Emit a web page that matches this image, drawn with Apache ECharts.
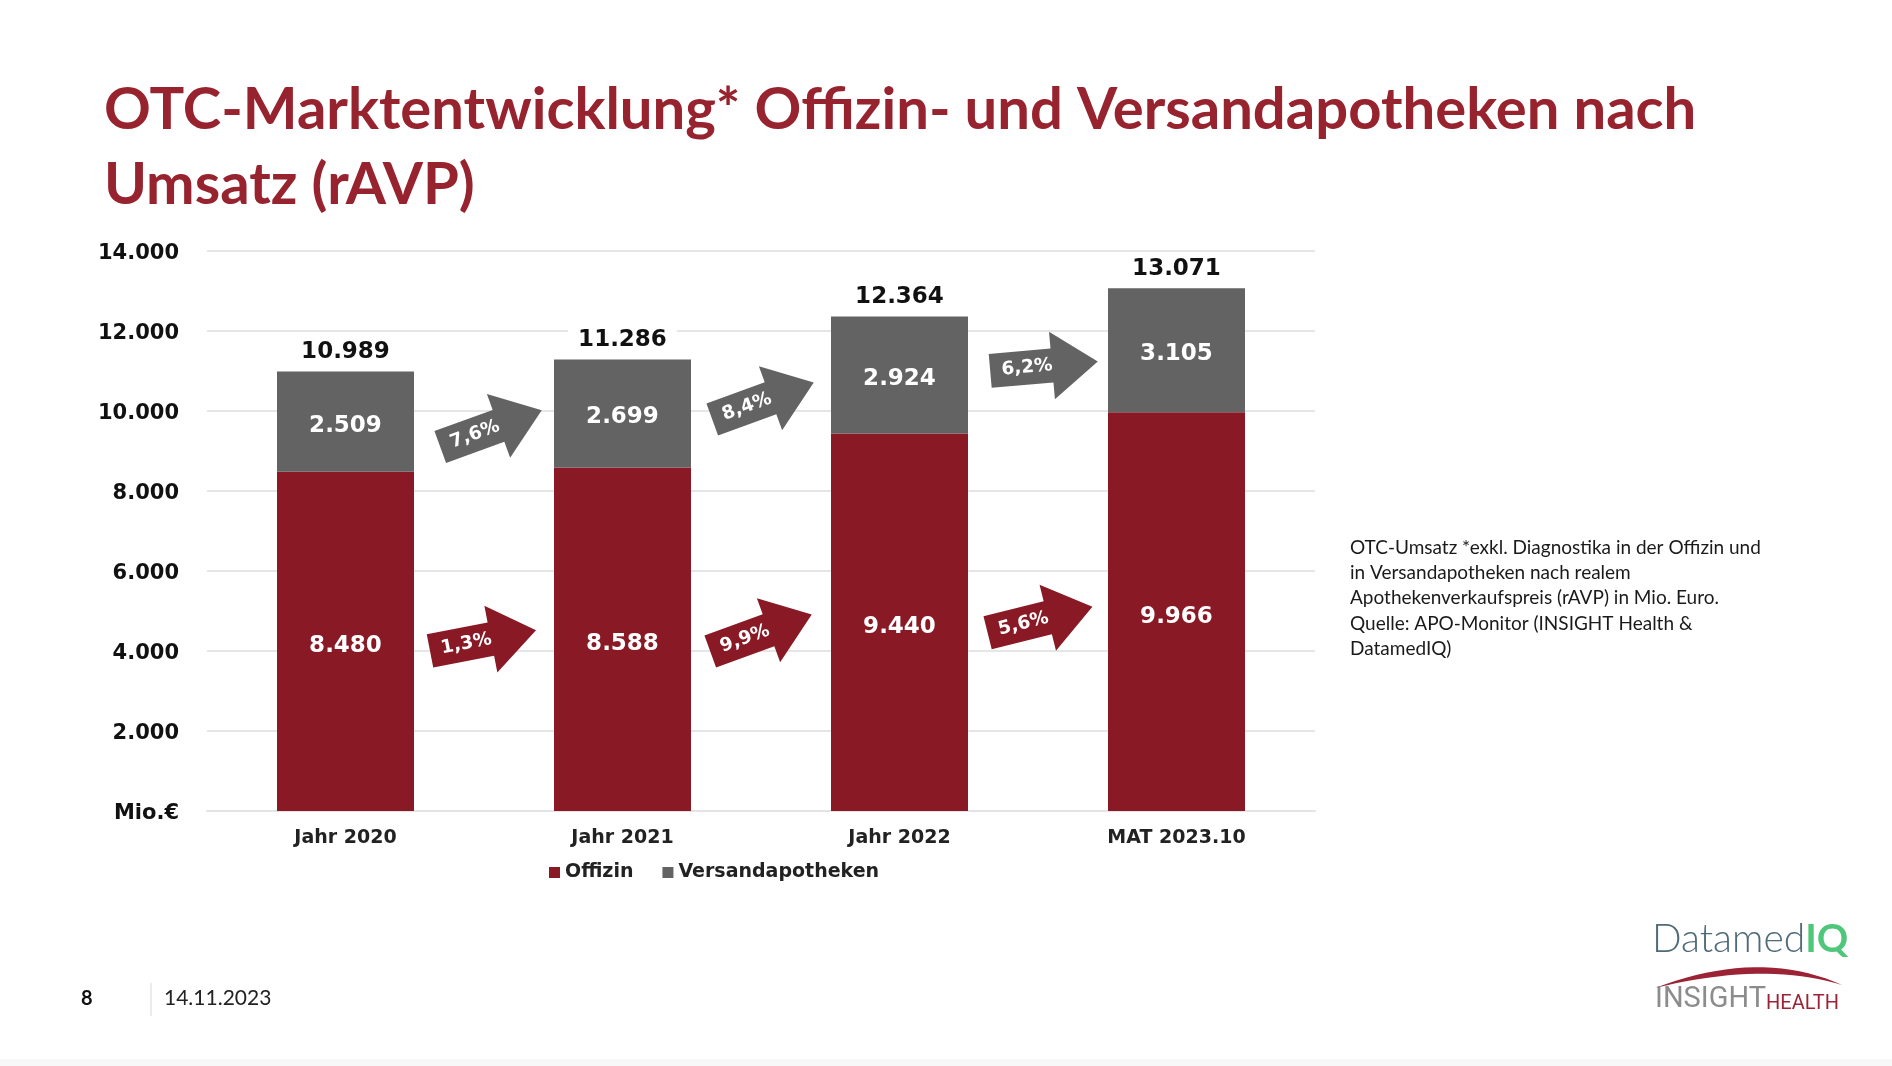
<!DOCTYPE html>
<html>
<head>
<meta charset="utf-8">
<script src="https://cdn.jsdelivr.net/npm/echarts@6/dist/echarts.min.js"></script>
<style>
html,body{margin:0;padding:0;background:#fff;}
#c{width:1892px;height:1066px;}
</style>
</head>
<body>
<div id="c"></div>
<script>
// ---- data ----
const categories = ['Jahr 2020', 'Jahr 2021', 'Jahr 2022', 'MAT 2023.10'];
const offizin = [8480, 8588, 9440, 9966];
const versand = [2509, 2699, 2924, 3105];
const totals = [10989, 11286, 12364, 13071];
const versandGrowth = ['7,6%', '8,4%', '6,2%'];
const offizinGrowth = ['1,3%', '9,9%', '5,6%'];
const yMin = 0, yMax = 14000, yInterval = 2000;

// ---- annotation placement (arrow anchors in value units, tilt in degrees) ----
const arrowCfg = {
  versand: { level: [9560, 10250, 11120], tilt: [20, 20, 5], dx: [7, 2, 6] },
  offizin: { level: [4260, 4450, 4780], tilt: [11, 20, 14], dx: [-1, 0, 2] }
};

const RED = '#891924';
const GRAY = '#636363';
const fmt = v => String(v).replace(/\B(?=(\d{3})+(?!\d))/g, '.');
const LBL = '"DejaVu Sans", Verdana, sans-serif';

const chart = echarts.init(document.getElementById('c'));
const option = {
  backgroundColor: '#ffffff',
  animation: false,
  title: {
    text: 'OTC-Marktentwicklung* Offizin- und Versandapotheken nach\nUmsatz (rAVP)',
    left: 104, top: 73, padding: 0,
    textStyle: { color: '#97232f', fontFamily: 'Lato, "Open Sans", sans-serif', fontWeight: 'bold', fontSize: 58, lineHeight: 75 }
  },
  legend: {
    data: ['Offizin', 'Versandapotheken'],
    left: 549, top: 863, padding: 0,
    itemWidth: 11, itemHeight: 11, itemGap: 29, icon: 'rect',
    textStyle: { fontFamily: LBL, fontWeight: 'bold', fontSize: 19, color: '#222' }
  },
  grid: { left: 207, right: 577, top: 251, bottom: 255, containLabel: false },
  xAxis: {
    type: 'category', data: categories,
    axisLine: { lineStyle: { color: '#e4e4e4', width: 2 } },
    axisTick: { show: false },
    axisLabel: { margin: 18, fontFamily: LBL, fontWeight: 'bold', fontSize: 19, color: '#222' }
  },
  yAxis: {
    type: 'value', min: yMin, max: yMax, interval: yInterval,
    axisLine: { show: false }, axisTick: { show: false },
    splitLine: { lineStyle: { color: '#e6e6e6', width: 2 } },
    axisLabel: {
      margin: 28, color: '#111',
      formatter: v => '{v|' + (v === 0 ? 'Mio.€' : fmt(v)) + '}',
      rich: { v: { fontFamily: LBL, fontWeight: 'bold', fontSize: 21, color: '#111', padding: [5, 0, 0, 0] } }
    }
  },
  series: [
    {
      name: 'Offizin', type: 'bar', stack: 'a', data: offizin, barWidth: 137,
      itemStyle: { color: RED },
      label: { show: true, position: 'inside', offset: [0, 5], color: '#fff', fontFamily: LBL, fontWeight: 'bold', fontSize: 23, formatter: p => fmt(p.value) }
    },
    {
      name: 'Versandapotheken', type: 'bar', stack: 'a', data: versand, barWidth: 137,
      itemStyle: { color: GRAY },
      label: { show: true, position: 'inside', offset: [0, 4], color: '#fff', fontFamily: LBL, fontWeight: 'bold', fontSize: 23, formatter: p => fmt(p.value) }
    },
    {
      name: 'Gesamt', type: 'line', data: totals, silent: true,
      symbol: 'circle', symbolSize: 1, showSymbol: true,
      lineStyle: { width: 0, color: 'rgba(0,0,0,0)' }, itemStyle: { color: 'rgba(0,0,0,0)' },
      label: {
        show: true, position: 'top', distance: 3.5, color: '#111', fontFamily: LBL, fontWeight: 'bold', fontSize: 23,
        backgroundColor: '#fff', padding: [4, 10], formatter: p => fmt(p.value)
      },
      z: 5
    }
  ]
};
chart.setOption(option);

function arrow(i, level, tilt, dx, color, text) {
  const p0 = chart.convertToPixel({ xAxisIndex: 0, yAxisIndex: 0 }, [i, level]);
  const p1 = chart.convertToPixel({ xAxisIndex: 0, yAxisIndex: 0 }, [i + 1, level]);
  return {
    type: 'group', x: (p0[0] + p1[0]) / 2 + dx, y: p0[1], rotation: tilt * Math.PI / 180,
    children: [
      { type: 'polygon', shape: { points: [[-54, -17], [8, -17], [8, -34], [54, 0], [8, 34], [8, 17], [-54, 17]] }, style: { fill: color } },
      { type: 'text', x: -17, y: 0, style: { text: text, fill: '#fff', font: 'bold 18.5px "DejaVu Sans", Verdana, sans-serif', align: 'center', verticalAlign: 'middle' } }
    ]
  };
}

function crescent() {
  // quadratic bezier outline for the logo swoosh
  const pts = [];
  const q = (a, c, b, t) => (1 - t) * (1 - t) * a + 2 * (1 - t) * t * c + t * t * b;
  for (let k = 0; k <= 20; k++) { const t = k / 20; pts.push([q(1655, 1760, 1842, t), q(988, 948, 985, t)]); }
  for (let k = 20; k >= 0; k--) { const t = k / 20; pts.push([q(1655, 1765, 1842, t), q(988, 961, 985, t)]); }
  return pts;
}

const g = [];
for (let i = 0; i < 3; i++) {
  g.push(arrow(i, arrowCfg.versand.level[i], arrowCfg.versand.tilt[i], arrowCfg.versand.dx[i], GRAY, versandGrowth[i]));
  g.push(arrow(i, arrowCfg.offizin.level[i], arrowCfg.offizin.tilt[i], arrowCfg.offizin.dx[i], RED, offizinGrowth[i]));
}
const TL = { align: 'left', verticalAlign: 'top' };
// footnote
g.push({
  type: 'text', x: 1350, y: 535,
  style: Object.assign({
    text: 'OTC-Umsatz *exkl. Diagnostika in der Offizin und\nin Versandapotheken nach realem\nApothekenverkaufspreis (rAVP) in Mio. Euro.\nQuelle: APO-Monitor (INSIGHT Health &\nDatamedIQ)',
    fill: '#1a1a1a', font: '19px Lato, "Open Sans", sans-serif', lineHeight: 25.3
  }, TL)
});
// footer
g.push({ type: 'text', x: 81, y: 989, style: Object.assign({ text: '8', fill: '#111', font: 'bold 20px Lato, sans-serif' }, TL) });
g.push({ type: 'line', shape: { x1: 151, y1: 983, x2: 151, y2: 1016 }, style: { stroke: '#d8d8d8', lineWidth: 1 } });
g.push({ type: 'text', x: 164, y: 988, style: Object.assign({ text: '14.11.2023', fill: '#222', font: '21px Lato, sans-serif' }, TL) });
// logos
g.push({
  type: 'text', x: 1652, y: 920,
  style: Object.assign({
    text: '{a|Datamed}{b|IQ}',
    rich: {
      a: { fill: '#4f6b78', fontFamily: 'Lato, sans-serif', fontWeight: 300, fontSize: 39 },
      b: { fill: '#4fc77a', fontFamily: 'Lato, sans-serif', fontWeight: 'bold', fontSize: 39 }
    }
  }, TL)
});
g.push({ type: 'polygon', shape: { points: crescent() }, style: { fill: '#9b2335' } });
g.push({
  type: 'text', x: 1655, y: 985,
  style: Object.assign({
    text: '{a|INSIGHT}{b|HEALTH}',
    rich: {
      a: { fill: '#8c8c8c', fontFamily: '"Liberation Sans Narrow", Roboto, sans-serif', fontSize: 29 },
      b: { fill: '#9b2335', fontFamily: '"Liberation Sans Narrow", Roboto, sans-serif', fontSize: 20, padding: [9, 0, 0, 0] }
    }
  }, TL)
});
g.push({ type: 'rect', shape: { x: 0, y: 1059, width: 1892, height: 7 }, style: { fill: '#f8f8f8' }, z: -1 });
chart.setOption({ graphic: g });
</script>
</body>
</html>
